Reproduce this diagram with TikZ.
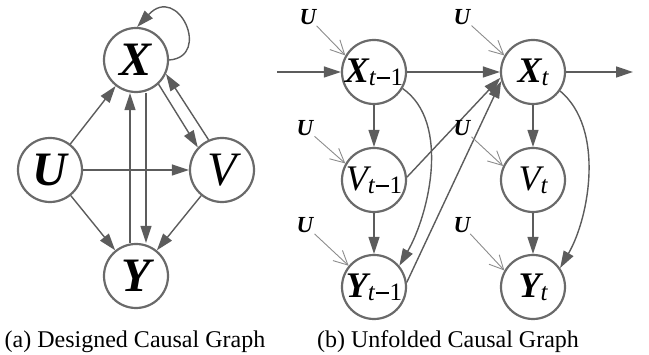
\documentclass[tikz,border=0pt]{standalone}
\usepackage{fontspec}
\setmainfont{Liberation Serif}
\usetikzlibrary{arrows.meta}
\definecolor{cgray}{HTML}{6A6A6A}
\definecolor{egray}{HTML}{5C5C5C}
\definecolor{ugray}{HTML}{8C8C8C}
\newcommand\subm{\raisebox{-3pt}{\fontsize{25}{25}\selectfont t\hspace{1pt}\rule[6.5pt]{13pt}{1.3pt}\hspace{1pt}\upshape 1}}
\newcommand\subt{\raisebox{-3pt}{\fontsize{25}{25}\selectfont t}}
\begin{document}
\begin{tikzpicture}[x=1pt,y=1pt,
  nd/.style={circle, draw=cgray, line width=2.2pt, minimum size=64pt, inner sep=0pt},
  edge/.style={draw=egray, line width=1.4pt, -{Triangle[length=17pt,width=11pt]}},
  uarr/.style={draw=ugray, line width=0.9pt, -{Straight Barb[length=14pt,width=14pt]}},
  ulab/.style={inner sep=1pt, font=\fontsize{23}{23}\selectfont\bfseries\itshape},
  captxt/.style={font=\fontsize{24}{24}\selectfont, anchor=base},
  bigb/.style={font=\fontsize{48}{48}\selectfont\bfseries\itshape},
  bigr/.style={font=\fontsize{48}{48}\selectfont\itshape},
  smb/.style={font=\fontsize{36}{36}\selectfont\itshape},
]
\useasboundingbox (0,0) rectangle (649,355);

% ---- (a) designed causal graph
\node[nd, label={[bigb]center:X}] (X) at (136,295) {};
\node[nd, label={[bigb]center:U}] (U) at (50,185) {};
\node[nd, label={[bigr]center:V}] (V) at (222,185) {};
\node[nd, label={[bigb]center:Y}] (Y) at (136,79) {};

\draw[edge] (U) -- (X);
\draw[edge] (U) -- (V);
\draw[edge] (U) -- (Y);
\draw[edge] (V) -- (Y);
\draw[edge] (X.-47) -- (V.137);
\draw[edge] (V.114) -- (X.-25);
\draw[edge] ([xshift=-6pt]Y.north) -- ([xshift=-6pt]X.south);
\draw[edge] ([xshift=10pt]X.south) -- ([xshift=10pt]Y.north);
\draw[edge] (X.east) .. controls (212,298) and (178,372) .. (X.88);

% ---- (b) unfolded causal graph
\node[nd, label={[smb]center:{\bfseries X}\subm}] (X1) at (374,283) {};
\node[nd, label={[smb]center:{V}\subm}] (V1) at (374,175) {};
\node[nd, label={[smb]center:{\bfseries Y}\subm}] (Y1) at (374,68) {};
\node[nd, label={[smb]center:{\bfseries X}\subt}] (X2) at (533,283) {};
\node[nd, label={[smb]center:{V}\subt}] (V2) at (533,175) {};
\node[nd, label={[smb]center:{\bfseries Y}\subt}] (Y2) at (533,68) {};

\coordinate (in) at (277,283);
\coordinate (out) at (633,283);
\draw[edge] (in) -- (X1);
\draw[edge] (X1) -- (X2);
\draw[edge] (X2) -- (out);
\draw[edge] (X1) -- (V1);
\draw[edge] (V1) -- (Y1);
\draw[edge] (X2) -- (V2);
\draw[edge] (V2) -- (Y2);
\draw[edge] (X1.-30) to[out=-35,in=60,looseness=0.85] (Y1.40);
\draw[edge] (X2.-35) to[out=-40,in=60,looseness=0.85] (Y2.35);
\draw[edge] (V1.5) -- (X2.190);
\draw[edge] (Y1.8) -- (X2.196);

\node[ulab] (u1) at (308,338) {U};
\node[ulab] (u2) at (305,227) {U};
\node[ulab] (u3) at (305,130) {U};
\node[ulab] (u4) at (462,338) {U};
\node[ulab] (u5) at (462,227) {U};
\node[ulab] (u6) at (462,130) {U};
\draw[uarr] (u1) -- (X1.150);
\draw[uarr] (u2) -- (V1.150);
\draw[uarr] (u3) -- (Y1.140);
\draw[uarr] (u4) -- (X2.150);
\draw[uarr] (u5) -- (V2.155);
\draw[uarr] (u6) -- (Y2.150);

\node[captxt] (capa) at (135,7) {(a) Designed Causal Graph};
\node[captxt] (capb) at (448,7) {(b) Unfolded Causal Graph};
\end{tikzpicture}
\end{document}
